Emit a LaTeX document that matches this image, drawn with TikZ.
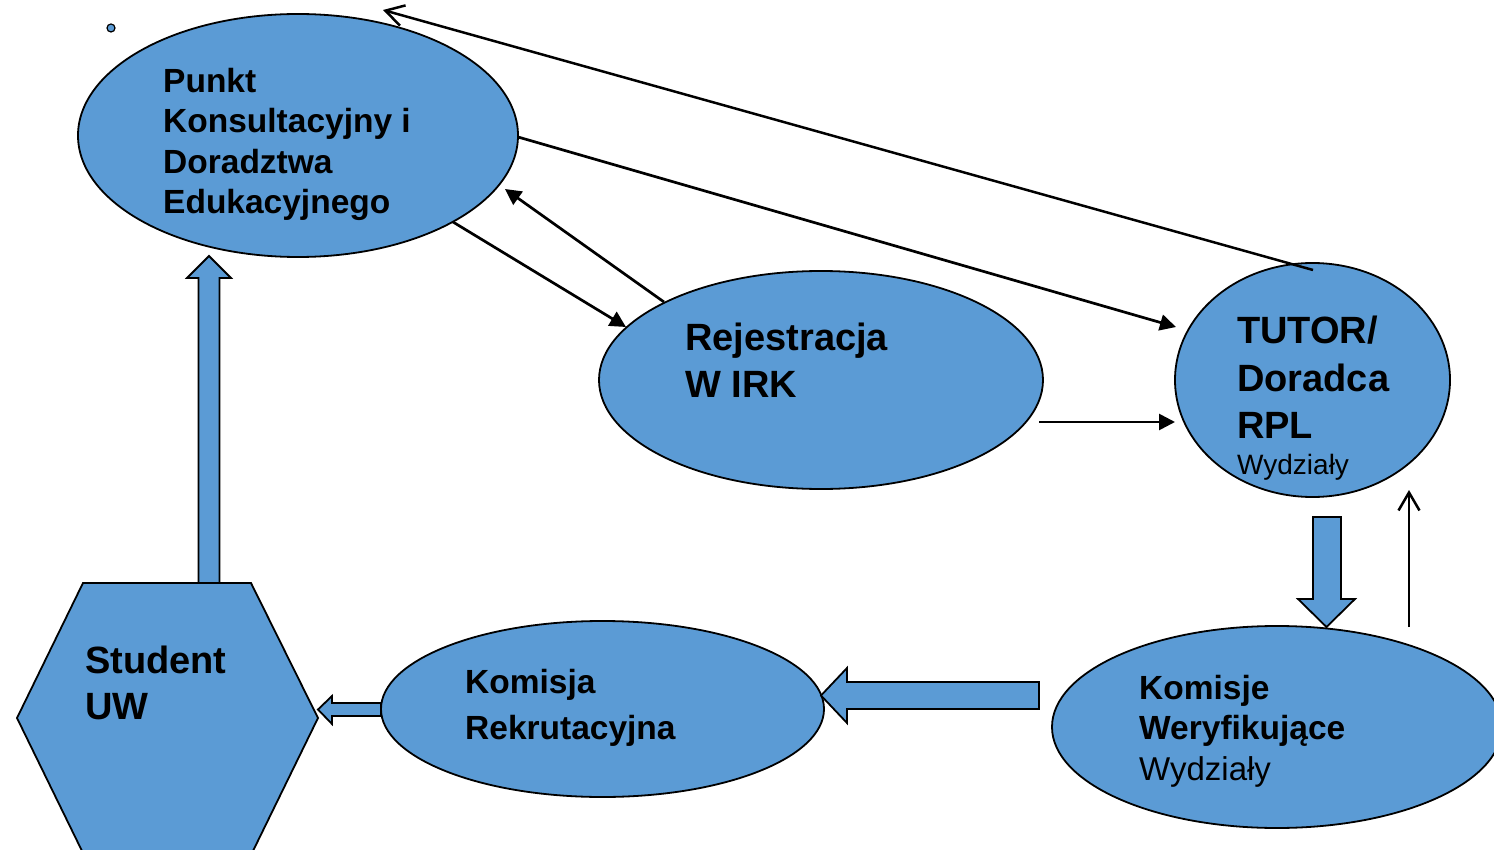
\documentclass[tikz,border=0pt]{standalone}
\usepackage{fontspec}
\setmainfont{Liberation Sans}
\usetikzlibrary{shapes.geometric,arrows.meta}
\definecolor{ofblue}{HTML}{5B9BD5}
\begin{document}
\begin{tikzpicture}[x=1pt,y=-1pt,
  ell/.style={ellipse, draw=black, line width=1.8pt, fill=ofblue, inner sep=0pt, outer sep=0pt},
  blk/.style={draw=black, line width=1.8pt, fill=ofblue, line join=miter},
  conn/.style={line width=2.7pt, -{Triangle[length=16pt,width=16pt]}},
  thinar/.style={line width=2.5pt, -{Straight Barb[length=18pt,width=21pt]}},
  bA/.style={anchor=base west, inner sep=0pt, font=\bfseries\fontsize{33.5}{40}\selectfont},
  bB/.style={anchor=base west, inner sep=0pt, font=\bfseries\fontsize{38}{46}\selectfont},
  rA/.style={anchor=base west, inner sep=0pt, font=\fontsize{33}{40}\selectfont},
  rB/.style={anchor=base west, inner sep=0pt, font=\fontsize{28}{34}\selectfont}]
\useasboundingbox (0,0) rectangle (1494,850);
\clip (0,0) rectangle (1494,850);

% small dot
\node[circle, draw=black, fill=ofblue, line width=1.2pt, minimum size=8pt, inner sep=0pt] (dot) at (111,28) {};

% ellipses
\node[ell, minimum width=440pt, minimum height=243pt] (pk) at (298,135.5) {};
\node[ell, minimum width=444pt, minimum height=218pt] (irk) at (821,380) {};
\node[ell, minimum width=275pt, minimum height=234pt] (tu) at (1312.5,380) {};
\node[ell, minimum width=450pt, minimum height=202pt] (kw) at (1277,727) {};
\node[ell, minimum width=443pt, minimum height=176pt] (kr) at (602.5,709) {};

% hexagon
\draw[blk] (17,718) -- (83,583) -- (251,583) -- (318,718) -- (252,853) -- (83,853) -- cycle;
\coordinate (st) at (167,718);

% block arrows
\draw[blk] (198.5,583) -- (198.5,278) -- (187,278) -- (209,256) -- (231,278) -- (219.5,278) -- (219.5,583) -- cycle;
\draw[blk] (1313,517) -- (1341,517) -- (1341,599) -- (1355,599) -- (1326.5,627) -- (1298,599) -- (1313,599) -- cycle;
\draw[blk] (1039,682) -- (847,682) -- (847,668) -- (821,695.5) -- (847,723) -- (847,709) -- (1039,709) -- cycle;
\draw[blk] (381,703) -- (332,703) -- (332,696) -- (318,709.5) -- (332,724) -- (332,716) -- (381,716) -- cycle;

% connector end points
\coordinate (a1s) at (518,137);
\coordinate (a1e) at (1176,327);
\coordinate (a2s) at (1313,270);
\coordinate (a2e) at (383,10);
\coordinate (a3s) at (453,222);
\coordinate (a3e) at (626,327);
\coordinate (a4s) at (664,302);
\coordinate (a4e) at (505,189);
\coordinate (a5s) at (1039,422);
\coordinate (a5e) at (1175,422);
\coordinate (a6s) at (1409,627);
\coordinate (a6e) at (1409,490);

\draw[conn] (a1s) -- (a1e);
\draw[thinar] (a2s) -- (a2e);
\draw[conn] (a3s) -- (a3e);
\draw[conn] (a4s) -- (a4e);
\draw[conn] (a5s) -- (a5e);
\draw[thinar] (a6s) -- (a6e);

% texts
\node[bA] (t1) at (163,93) {Punkt};
\node[bA] (t2) at (163,133) {Konsultacyjny i};
\node[bA] (t3) at (163,174) {Doradztwa};
\node[bA] (t4) at (163,214) {Edukacyjnego};

\node[bB] (t5) at (685,351) {Rejestracja};
\node[bB] (t6) at (685,397) {W IRK};

\node[bB] (t7) at (1237,344) {TUTOR/};
\node[bB] (t8) at (1237,391) {Doradca};
\node[bB] (t9) at (1237,438) {RPL};
\node[rB] (t10) at (1237,474) {Wydziały};

\node[bA] (t11) at (1139,699) {Komisje};
\node[bA] (t12) at (1139,739) {Weryfikujące};
\node[rA] (t13) at (1139,780) {Wydziały};

\node[bA] (t14) at (465,693) {Komisja};
\node[bA] (t15) at (465,739) {Rekrutacyjna};

\node[bB] (t16) at (85,673) {Student};
\node[bB] (t17) at (85,719) {UW};
\end{tikzpicture}
\end{document}
